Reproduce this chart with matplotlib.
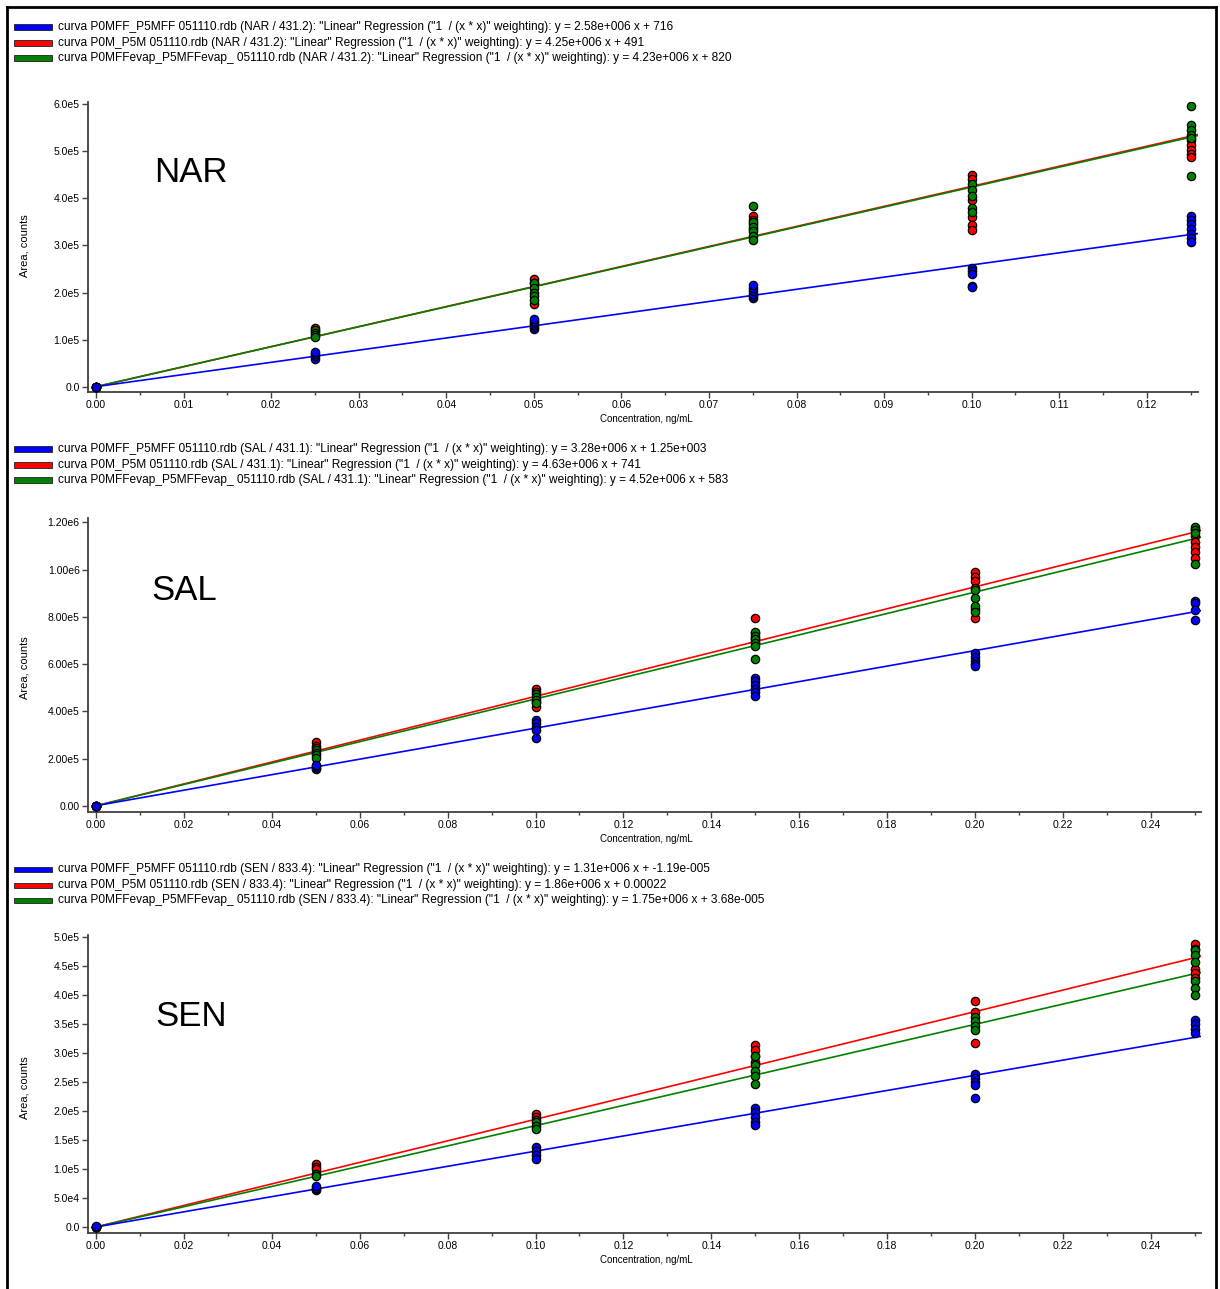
import numpy as np
import matplotlib
matplotlib.use("Agg")
import matplotlib.pyplot as plt
from matplotlib.lines import Line2D
from matplotlib.patches import Rectangle

# =========================
# Data
# =========================

nar_x = [0.0, 0.025, 0.05, 0.075, 0.10, 0.125]
sal_x = [0.0, 0.05, 0.10, 0.15, 0.20, 0.25]
sen_x = [0.0, 0.05, 0.10, 0.15, 0.20, 0.25]

# replicate areas at each level (one list per level)
nar_blue = [[700, 400, 900],
            [60000, 65000, 70000, 75000],
            [122000, 127000, 132000, 136000, 140000, 145000],
            [188000, 193000, 198000, 203000, 210000, 216000],
            [252000, 245000, 240000, 215000, 212000],
            [362000, 355000, 345000, 335000, 325000, 315000, 307000]]
nar_red = [[500, 300],
           [125000, 118000],
           [230000, 220000, 175000],
           [362000, 355000, 345000, 335000],
           [449000, 440000, 396000, 361000, 343000, 333000],
           [523000, 512000, 502000, 495000, 487000]]
nar_green = [[800, 600],
             [120000, 115000, 110000, 105000],
             [220000, 210000, 200000, 192000, 185000],
             [383000, 350000, 340000, 330000, 320000, 312000],
             [430000, 418000, 405000, 379000, 370000],
             [596000, 555000, 544000, 534000, 528000, 447000]]

sal_blue = [[1200, 900, 1500],
            [155000, 162000, 168000, 175000],
            [362000, 350000, 335000, 320000, 288000],
            [542000, 530000, 510000, 495000, 480000, 465000],
            [645000, 630000, 615000, 600000, 590000],
            [868000, 860000, 830000, 788000]]
sal_red = [[700, 900],
           [270000, 255000, 245000],
           [495000, 480000, 440000, 420000],
           [794000, 730000, 710000, 695000],
           [991000, 970000, 950000, 920000, 835000, 794000],
           [1170000, 1140000, 1115000, 1095000, 1075000, 1050000]]
sal_green = [[600, 500],
             [235000, 225000, 215000, 205000],
             [475000, 460000, 450000, 435000],
             [735000, 720000, 705000, 690000, 675000, 620000],
             [913000, 880000, 845000, 822000],
             [1180000, 1165000, 1155000, 1025000]]

sen_blue = [[0, 500, 900],
            [64000, 66000, 68000, 70000],
            [138000, 131000, 125000, 118000],
            [205000, 198000, 190000, 182000, 176000],
            [265000, 258000, 250000, 245000, 223000],
            [357000, 350000, 342000, 335000]]
sen_red = [[0, 400],
           [108000, 104000, 100000],
           [195000, 190000, 185000],
           [315000, 305000, 295000, 285000],
           [390000, 372000, 317000],
           [488000, 480000, 445000, 438000, 430000]]
sen_green = [[0, 300],
             [92000, 88000],
             [182000, 175000, 170000],
             [295000, 280000, 270000, 260000, 247000],
             [362000, 355000, 347000, 340000],
             [478000, 470000, 457000, 425000, 412000, 400000]]

# regression (slope, intercept) per series: blue, red, green
nar_fit = [(2.58e6, 716), (4.25e6, 491), (4.23e6, 820)]
sal_fit = [(3.28e6, 1.25e3), (4.63e6, 741), (4.52e6, 583)]
sen_fit = [(1.31e6, -1.19e-5), (1.86e6, 0.00022), (1.75e6, 3.68e-5)]

legend_files = ["curva P0MFF_P5MFF 051110.rdb",
                "curva P0M_P5M 051110.rdb",
                "curva P0MFFevap_P5MFFevap_ 051110.rdb"]
nar_eq = ["y = 2.58e+006 x + 716", "y = 4.25e+006 x + 491", "y = 4.23e+006 x + 820"]
sal_eq = ["y = 3.28e+006 x + 1.25e+003", "y = 4.63e+006 x + 741", "y = 4.52e+006 x + 583"]
sen_eq = ["y = 1.31e+006 x + -1.19e-005", "y = 1.86e+006 x + 0.00022", "y = 1.75e+006 x + 3.68e-005"]

nar_yticks = [0, 1e5, 2e5, 3e5, 4e5, 5e5, 6e5]
nar_ylabels = ["0.0", "1.0e5", "2.0e5", "3.0e5", "4.0e5", "5.0e5", "6.0e5"]
sal_yticks = [0, 2e5, 4e5, 6e5, 8e5, 1e6, 1.2e6]
sal_ylabels = ["0.00", "2.00e5", "4.00e5", "6.00e5", "8.00e5", "1.00e6", "1.20e6"]
sen_yticks = [0, 5e4, 1e5, 1.5e5, 2e5, 2.5e5, 3e5, 3.5e5, 4e5, 4.5e5, 5e5]
sen_ylabels = ["0.0", "5.0e4", "1.0e5", "1.5e5", "2.0e5", "2.5e5", "3.0e5",
               "3.5e5", "4.0e5", "4.5e5", "5.0e5"]
nar_xticks = [0.0, 0.01, 0.02, 0.03, 0.04, 0.05, 0.06, 0.07, 0.08, 0.09, 0.10, 0.11, 0.12]
nar_xlabels = ["0.00", "0.01", "0.02", "0.03", "0.04", "0.05", "0.06", "0.07",
               "0.08", "0.09", "0.10", "0.11", "0.12"]
wide_xticks = [0.0, 0.02, 0.04, 0.06, 0.08, 0.10, 0.12, 0.14, 0.16, 0.18, 0.20, 0.22, 0.24]
wide_xlabels = ["0.00", "0.02", "0.04", "0.06", "0.08", "0.10", "0.12", "0.14",
                "0.16", "0.18", "0.20", "0.22", "0.24"]

colors = ["#0000FF", "#FF0000", "#008000"]

# =========================
# Figure
# =========================

W, H = 1220, 1289
plt.rcParams["font.family"] = ["Liberation Sans", "DejaVu Sans"]
fig = plt.figure(figsize=(W / 100, H / 100), dpi=100)


def fx(px):
    return px / W


def fy(py):
    return 1 - py / H


def panel(box, name, name_pos, xs, series, fits, eqs, tag, legend_y,
          xlim, ylim, xticks, xlabels, xminor, yticks, ylabels,
          ylabel_y, xlabel_y):
    left, top, right, bottom = box
    ax = fig.add_axes([fx(left), fy(bottom), fx(right) - fx(left), (bottom - top) / H])

    # regression lines (red, green, blue order)
    xl = np.array([0.0, xlim[1]])
    for i in [1, 2, 0]:
        slope, icpt = fits[i]
        ax.plot(xl, slope * xl + icpt, color=colors[i], lw=1.2, zorder=2)

    # replicate points
    for i in [1, 2, 0]:
        px, py = [], []
        for xv, reps in zip(xs, series[i]):
            px += [xv] * len(reps)
            py += reps
        ax.plot(px, py, "o", ms=6.0, mfc=colors[i], mec="black", mew=0.9, zorder=3)

    ax.set_xlim(*xlim)
    ax.set_ylim(*ylim)
    ax.set_xticks(xticks)
    ax.set_xticklabels(xlabels)
    ax.set_xticks(xminor, minor=True)
    ax.set_yticks(yticks)
    ax.set_yticklabels(ylabels)
    for s in ["top", "right"]:
        ax.spines[s].set_visible(False)
    for s in ["left", "bottom"]:
        ax.spines[s].set_color("#404040")
        ax.spines[s].set_linewidth(1.3)
    ax.tick_params(axis="both", which="major", length=4, width=1, color="#404040",
                   labelsize=7.5, pad=2)
    ax.tick_params(axis="x", which="minor", length=2.5, width=1, color="#404040")

    # compound name
    fig.text(fx(name_pos[0]), fy(name_pos[1]), name, fontsize=25,
             ha="center", va="center")

    # axis titles
    fig.text(fx(25), fy(ylabel_y), "Area, counts", rotation=90, fontsize=8,
             ha="center", va="center")
    fig.text(fx(646), fy(xlabel_y), "Concentration, ng/mL", fontsize=7,
             ha="center", va="center")

    # legend block
    for i in range(3):
        yy = legend_y[i]
        fig.patches.append(Rectangle((fx(14), fy(yy + 2.5)), fx(38), 5 / H,
                                     transform=fig.transFigure, facecolor=colors[i],
                                     edgecolor="#202020", lw=0.6))
        label = (f'{legend_files[i]} ({tag}): "Linear" Regression '
                 f'("1  / (x * x)" weighting): {eqs[i]}')
        fig.text(fx(58), fy(yy), label, fontsize=8.6,
                 family=["Liberation Sans Narrow", "Liberation Sans", "DejaVu Sans"],
                 ha="left", va="center")
    return ax


nar_minor = [0.005 + 0.01 * k for k in range(13)]
wide_minor = [0.01 + 0.02 * k for k in range(13)]

panel((88, 102, 1198, 392), "NAR", (191, 172), nar_x,
      [nar_blue, nar_red, nar_green], nar_fit, nar_eq, "NAR / 431.2",
      [27, 43, 58], (-0.00091, 0.12584), (-10600, 6.042e5),
      nar_xticks, nar_xlabels, nar_minor, nar_yticks, nar_ylabels, 246, 419)

panel((88, 518, 1201, 812), "SAL", (184, 591), sal_x,
      [sal_blue, sal_red, sal_green], sal_fit, sal_eq, "SAL / 431.1",
      [449, 465, 480], (-0.00182, 0.2514), (-25400, 1.2178e6),
      wide_xticks, wide_xlabels, wide_minor, sal_yticks, sal_ylabels, 668, 839)

panel((88, 935, 1201, 1233), "SEN", (191, 1016), sen_x,
      [sen_blue, sen_red, sen_green], sen_fit, sen_eq, "SEN / 833.4",
      [869, 885, 900], (-0.00182, 0.2514), (-10400, 5.043e5),
      wide_xticks, wide_xlabels, wide_minor, sen_yticks, sen_ylabels, 1088, 1260)

# page frame
fig.add_artist(Line2D([fx(7), fx(1216)], [fy(7), fy(7)], color="black", lw=2))
fig.add_artist(Line2D([fx(7), fx(7)], [fy(7), 0], color="black", lw=2))
fig.add_artist(Line2D([fx(1216), fx(1216)], [fy(7), 0], color="black", lw=2))

fig.savefig("out.png", dpi=100)
plt.close(fig)
